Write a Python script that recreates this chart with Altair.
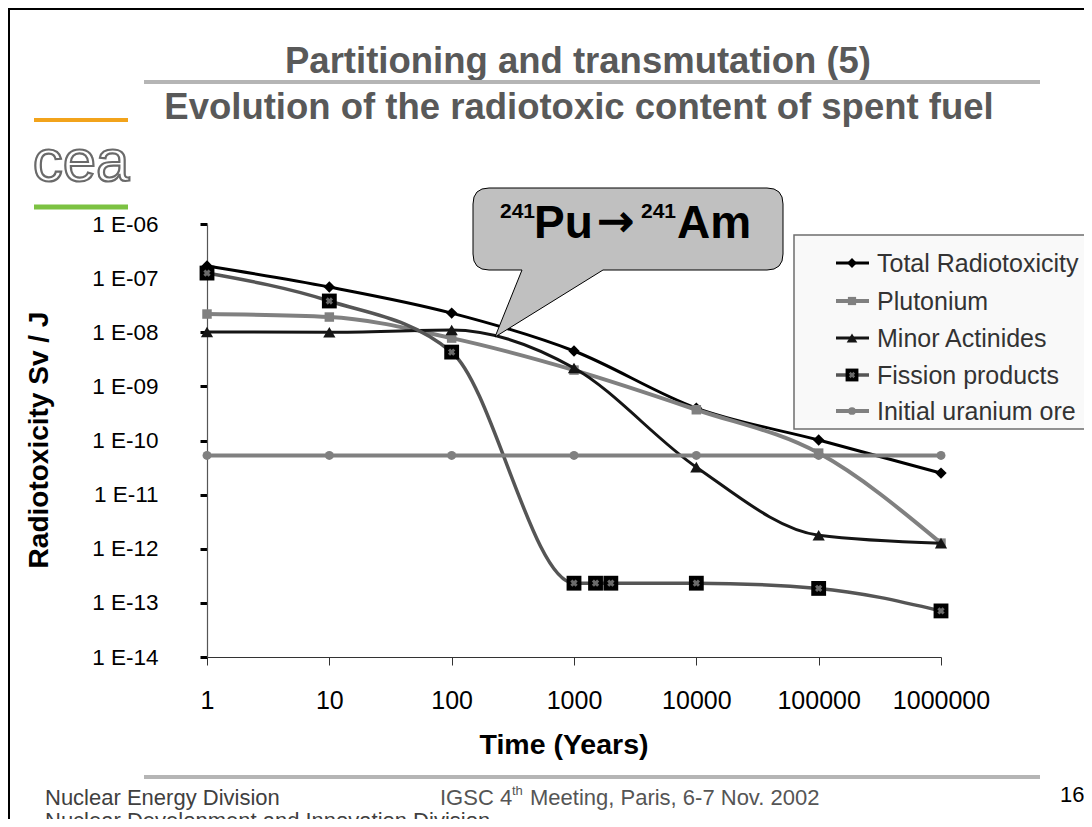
import altair as alt
import pandas as pd

# ---------------- data ----------------
series_names = ["Total Radiotoxicity", "Plutonium", "Minor Actinides",
                "Fission products", "Initial uranium ore"]
times = [1, 10, 100, 1000, 10000, 100000, 1000000]
total = [1.67e-7, 6.85e-8, 2.26e-8, 4.5e-9, 3.97e-10, 1.02e-10, 2.5e-11]
plutonium = [2.17e-8, 1.91e-8, 7.8e-9, 2.0e-9, 3.7e-10, 5.85e-11, 1.27e-12]
minor_actinides = [1.01e-8, 1.0e-8, 1.1e-8, 2.18e-9, 3.22e-11, 1.78e-12, 1.27e-12]
fission_times = [1, 10, 100, 1000, 1500, 2000, 10000, 100000, 1000000]
fission = [1.24e-7, 3.78e-8, 4.3e-9, 2.31e-13, 2.31e-13, 2.31e-13, 2.31e-13, 1.85e-13, 7.1e-14]
uranium_ore = [5.3e-11, 5.3e-11, 5.3e-11, 5.3e-11, 5.3e-11, 5.3e-11, 5.3e-11]

x_ticks = [1, 10, 100, 1000, 10000, 100000, 1000000]
y_ticks = [1e-14, 1e-13, 1e-12, 1e-11, 1e-10, 1e-9, 1e-8, 1e-7, 1e-6]

rows = []
for name, ts, vs in [(series_names[0], times, total),
                     (series_names[1], times, plutonium),
                     (series_names[2], times, minor_actinides),
                     (series_names[3], fission_times, fission),
                     (series_names[4], times, uranium_ore)]:
    for t, v in zip(ts, vs):
        rows.append({"series": name, "time": t, "value": v})
df = pd.DataFrame(rows)

# ---------------- layout ----------------
FONT = "Liberation Sans"
OX, OY = 207, 224          # page position of plot origin
W, H = 734, 433            # plot area
PAD_L, PAD_T = OX - 8, OY - 8
PAD_R = 1076 - PAD_L - W
PAD_B = 811 - PAD_T - H

xs = alt.Scale(type="log", domain=[1, 1e6])
ys = alt.Scale(type="log", domain=[1e-14, 1e-6])
x_axis = alt.Axis(values=x_ticks, format="d", grid=False, title=None,
                  domainColor="#333333", domainWidth=1, tickColor="#333333",
                  tickSize=8, tickWidth=1, labelFont=FONT, labelFontSize=25,
                  labelColor="black", labelPadding=23, labelFlush=False)
y_axis = alt.Axis(values=y_ticks, grid=False, title=None,
                  labelExpr="'1 E-' + (round(-log(datum.value)/LN10) < 10 ? '0' : '') + round(-log(datum.value)/LN10)",
                  domainColor="#555555", domainWidth=1.2, tickColor="black",
                  tickSize=7, tickWidth=3, labelFont=FONT, labelFontSize=22.5,
                  labelColor="black", labelPadding=42)
X = alt.X("time:Q", scale=xs, axis=x_axis)
Y = alt.Y("value:Q", scale=ys, axis=y_axis)

style = {
    "Total Radiotoxicity": dict(color="#000000", width=3, shape="diamond", size=130, mcolor="#000000"),
    "Plutonium": dict(color="#808080", width=4, shape="square", size=90, mcolor="#808080"),
    "Minor Actinides": dict(color="#151515", width=3, shape="triangle-up", size=150, mcolor="#151515"),
    "Fission products": dict(color="#555555", width=3.5, shape="square", size=220, mcolor="#000000"),
    "Initial uranium ore": dict(color="#808080", width=4, shape="circle", size=80, mcolor="#808080"),
}

layers = []
for name in series_names:
    s = style[name]
    base = alt.Chart(df).transform_filter(alt.datum.series == name)
    layers.append(base.mark_line(interpolate="monotone", color=s["color"],
                                 strokeWidth=s["width"]).encode(x=X, y=Y))
    layers.append(base.mark_point(shape=s["shape"], size=s["size"], filled=True,
                                  color=s["mcolor"], opacity=1).encode(x=X, y=Y))
    if name == "Fission products":
        layers.append(base.mark_point(shape="cross", angle=45, size=55, filled=True,
                                      color="#6a6a6a", opacity=1).encode(x=X, y=Y))

one = pd.DataFrame({"k": [0]})


def px(v):
    return alt.value(v - OX)


def py(v):
    return alt.value(v - OY)


def text(t, x, y, size, color="black", weight="normal", align="left",
         baseline="middle", angle=0, font=FONT, **kw):
    return alt.Chart(pd.DataFrame({"t": [t]})).mark_text(
        align=align, baseline=baseline, fontSize=size, fontWeight=weight,
        color=color, font=font, angle=angle, **kw).encode(
        text="t:N", x=px(x), y=py(y))


def hline(x1, x2, y, color, width):
    return alt.Chart(one).mark_rule(color=color, strokeWidth=width).encode(
        x=px(x1), x2=px(x2), y=py(y))


def vline(x, y1, y2, color, width):
    return alt.Chart(one).mark_rule(color=color, strokeWidth=width).encode(
        x=px(x), y=py(y1), y2=py(y2))


deco = []
# slide frame
deco.append(hline(8, 1092, 9, "black", 2))
deco.append(vline(9, 8, 830, "black", 2))
# title block
deco.append(text("Partitioning and transmutation (5)", 578, 62, 36.5, "#595959", "bold", "center"))
deco.append(hline(144, 1040, 82, "#b5b5b5", 4))
deco.append(text("Evolution of the radiotoxic content of spent fuel", 579, 108, 36.5, "#595959", "bold", "center"))
# logo
deco.append(hline(34, 128, 120, "#f2a31b", 4))
deco.append(hline(34, 128, 207, "#7cc242", 5))
deco.append(alt.Chart(pd.DataFrame({"t": ["cea"]})).mark_text(
    align="center", baseline="alphabetic", fontSize=60, font=FONT,
    fill="white", stroke="#6a6a6a", strokeWidth=2.2).encode(
    text="t:N", x=px(81), y=py(181)))
# axis titles
deco.append(text("Radiotoxicity Sv / J", 40, 440, 28, "black", "bold", "center", angle=270))
deco.append(text("Time (Years)", 564, 745, 28.5, "black", "bold", "center"))
# footer
deco.append(hline(144, 1040, 777, "#b5b5b5", 4))
deco.append(text("Nuclear Energy Division", 45, 798, 22, "#404040"))
deco.append(text("Nuclear Development and Innovation Division", 45, 821, 22, "#404040"))
deco.append(text("IGSC 4", 440, 798, 22, "#555555"))
deco.append(text("th", 512, 791, 13, "#555555"))
deco.append(text("Meeting, Paris,  6-7 Nov. 2002", 530, 798, 22, "#555555"))
deco.append(text("16", 1060, 795, 22, "black"))

# callout balloon (rounded rectangle with wedge), drawn as one custom path
cl, cr, ct, cb, rad = 473, 783, 188, 270, 16
tip = (495, 337)
bx1, bx2 = 522, 603
pts_path = [("M", cl + rad, ct), ("L", cr - rad, ct), ("Q", cr, ct, cr, ct + rad),
            ("L", cr, cb - rad), ("Q", cr, cb, cr - rad, cb), ("L", bx2, cb),
            ("L", tip[0], tip[1]), ("L", bx1, cb), ("L", cl + rad, cb),
            ("Q", cl, cb, cl, cb - rad), ("L", cl, ct + rad), ("Q", cl, ct, cl + rad, ct)]
ccx, ccy = (cl + cr) / 2, (ct + tip[1]) / 2
R = max(cr - cl, tip[1] - ct) / 2
parts = []
for seg in pts_path:
    cmd, vals = seg[0], seg[1:]
    coords = []
    for i in range(0, len(vals), 2):
        coords.append("%.4f,%.4f" % ((vals[i] - ccx) / R, (vals[i + 1] - ccy) / R))
    parts.append(cmd + " ".join(coords))
balloon_path = " ".join(parts) + " Z"
deco_front = []
deco_front.append(alt.Chart(one).mark_point(
    shape=balloon_path, size=(2 * R) ** 2, filled=True, fill="#c0c0c0",
    stroke="black", strokeWidth=1, opacity=1, fillOpacity=1, strokeOpacity=1).encode(
    x=px(ccx), y=py(ccy)))
deco_front.append(text("241", 500, 218, 21, "black", "bold", baseline="alphabetic"))
deco_front.append(text("Pu", 534, 238, 46, "black", "bold", baseline="alphabetic"))
deco_front.append(text("\u2192", 597, 236, 44, "black", "normal", baseline="alphabetic",
                       font="DejaVu Sans", stroke="black", strokeWidth=1.2))
deco_front.append(text("241", 641, 218, 21, "black", "bold", baseline="alphabetic"))
deco_front.append(text("Am", 677, 238, 46, "black", "bold", baseline="alphabetic"))

# legend box
deco_front.append(alt.Chart(one).mark_rect(fill="#f9f9f9", stroke="#6e6e6e",
                                           strokeWidth=1.5).encode(
    x=px(794), x2=px(1100), y=py(235), y2=py(429)))
leg_y = [263, 301, 338, 375, 411]
for name, ly in zip(series_names, leg_y):
    s = style[name]
    deco_front.append(hline(836, 869, ly, s["color"], s["width"]))
    deco_front.append(alt.Chart(one).mark_point(
        shape=s["shape"], size=s["size"] * 0.75, filled=True, color=s["mcolor"],
        opacity=1).encode(x=px(852), y=py(ly)))
    if name == "Fission products":
        deco_front.append(alt.Chart(one).mark_point(
            shape="cross", angle=45, size=40, filled=True, color="#6a6a6a",
            opacity=1).encode(x=px(852), y=py(ly)))
    deco_front.append(text(name, 877, ly + 1, 25, "#333333"))

chart = alt.layer(*deco, *layers, *deco_front).properties(
    width=W, height=H,
    autosize=alt.AutoSizeParams(type="none"),
    padding={"left": PAD_L, "top": PAD_T, "right": PAD_R, "bottom": PAD_B},
    background="white",
).configure_view(stroke=None)

chart.save("out.html", embed_options={"renderer": "svg", "actions": False})
